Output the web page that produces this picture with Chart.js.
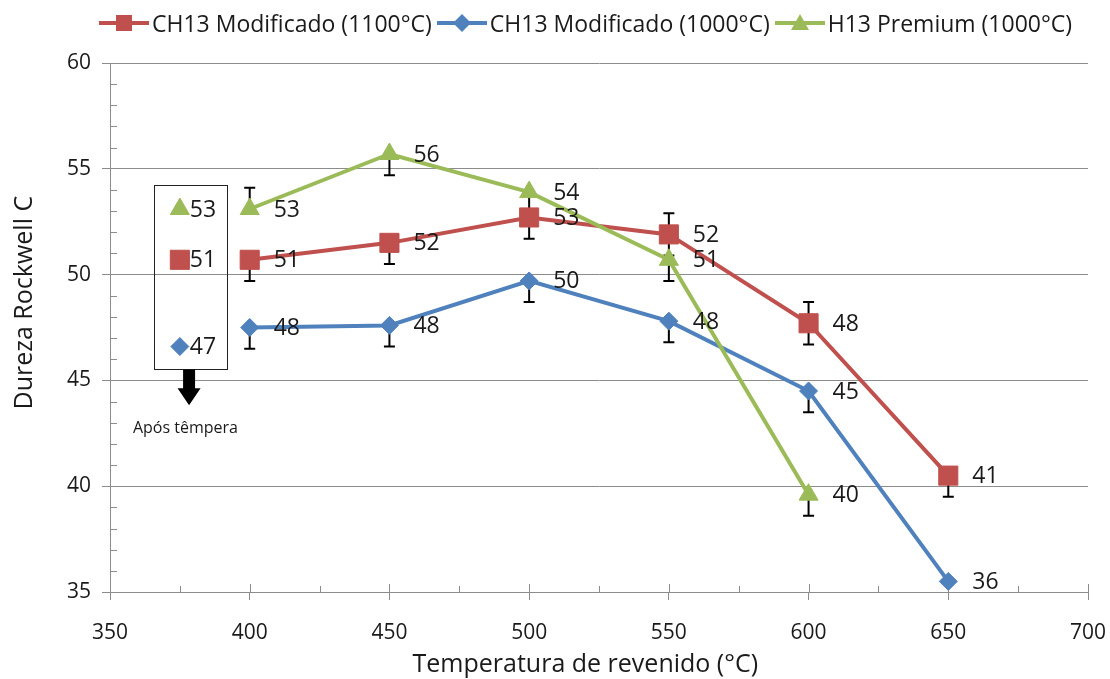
<!DOCTYPE html>
<html>
<head>
<meta charset="utf-8">
<script src="https://cdn.jsdelivr.net/npm/chart.js@4.4.1/dist/chart.umd.min.js"></script>
<style>
  html, body { margin: 0; padding: 0; background: #fff; }
  #wrap { position: relative; width: 1110px; height: 679px; }
  #legend {
    position: absolute; top: 7px; left: 99px;
    display: flex; align-items: center;
    font-family: "Open Sans", sans-serif; font-size: 23px; color: #1a1a1a;
    white-space: nowrap;
  }
  #legend .item { display: flex; align-items: center; margin-right: 5px; }
  #legend .item span { margin-left: 3px; }
</style>
</head>
<body>
<div id="wrap">
  <canvas id="hardness" width="1110" height="679"></canvas>
  <div id="legend"></div>
</div>
<script>
// tempering temperatures (°C)
const temps = [400, 450, 500, 550, 600, 650];
const tempsH13 = [400, 450, 500, 550, 600];

// Rockwell C hardness after tempering
const ch13_1100 = [50.7, 51.5, 52.7, 51.9, 47.7, 40.5];
const ch13_1000 = [47.5, 47.6, 49.7, 47.8, 44.5, 35.5];
const h13_1000 = [53.1, 55.7, 53.9, 50.7, 39.6];

// error bars (up / down)
const up_1100 = [0, 0, 0, 1, 1, 0];
const down_1100 = [1, 1, 1, 1, 1, 1];
const up_1000 = [0, 0, 0, 0, 0, 0];
const down_1000 = [1, 1, 1, 1, 1, 0];
const up_h13 = [1, 0, 0, 0, 0];
const down_h13 = [0, 1, 1, 1, 1];

// hardness right after quenching, shown at the side
const quenchX = 375;
const quench_1100 = 50.7;
const quench_1000 = 46.6;
const quench_h13 = 53.1;

const seriesNames = ['CH13 Modificado (1100°C)', 'CH13 Modificado (1000°C)', 'H13 Premium (1000°C)'];
const xTicks = [350, 400, 450, 500, 550, 600, 650, 700];
const yTicks = [35, 40, 45, 50, 55, 60];
const xTitle = 'Temperatura de revenido (°C)';
const yTitle = 'Dureza Rockwell C';

const RED = '#C0504D', BLUE = '#4F81BD', GREEN = '#9BBB59';
const GRID = '#8c8c8c';
const TEXT = '#1a1a1a';
const FONT = '"Open Sans", sans-serif';

const pts = (xs, ys) => xs.map((x, i) => ({x: x, y: ys[i]}));

function series(label, xs, ys, color, style, radius, up, down, order) {
  return {
    label: label,
    data: pts(xs, ys),
    borderColor: color,
    backgroundColor: color,
    borderWidth: 4,
    pointStyle: style,
    pointRadius: radius,
    pointBorderWidth: 1,
    pointBackgroundColor: color,
    pointBorderColor: color,
    tension: 0,
    order: order,
    errUp: up,
    errDown: down,
    labelGap: 24
  };
}

function quench(label, y, color, style, radius) {
  return {
    label: label,
    data: [{x: quenchX, y: y}],
    showLine: false,
    pointStyle: style,
    pointRadius: radius,
    pointBorderWidth: 1,
    pointBackgroundColor: color,
    pointBorderColor: color,
    borderColor: color,
    backgroundColor: color,
    labelGap: 10
  };
}

const datasets = [
  series(seriesNames[0], temps, ch13_1100, RED, 'rect', 13.5, up_1100, down_1100, 2),
  series(seriesNames[1], temps, ch13_1000, BLUE, 'rectRot', 9, up_1000, down_1000, 1),
  series(seriesNames[2], tempsH13, h13_1000, GREEN, 'triangle', 11, up_h13, down_h13, 0),
  quench('q1100', quench_1100, RED, 'rect', 13.5),
  quench('q1000', quench_1000, BLUE, 'rectRot', 9),
  quench('qh13', quench_h13, GREEN, 'triangle', 11)
];

// error bars sit behind lines and markers
const errorBars = {
  id: 'errorBars',
  beforeDatasetsDraw(chart) {
    const {ctx, scales: {x, y}} = chart;
    ctx.save();
    ctx.strokeStyle = '#000';
    ctx.lineWidth = 2;
    chart.data.datasets.forEach(ds => {
      if (!ds.errUp) return;
      ds.data.forEach((p, i) => {
        const px = x.getPixelForValue(p.x);
        [[ds.errUp[i], 1], [ds.errDown[i], -1]].forEach(([e, dir]) => {
          if (!e) return;
          const py0 = y.getPixelForValue(p.y);
          const py1 = y.getPixelForValue(p.y + dir * e);
          ctx.beginPath();
          ctx.moveTo(px, py0);
          ctx.lineTo(px, py1);
          ctx.moveTo(px - 5.5, py1);
          ctx.lineTo(px + 5.5, py1);
          ctx.stroke();
        });
      });
    });
    ctx.restore();
  }
};

// minor ticks and inner part of the x major ticks
const minorTicks = {
  id: 'minorTicks',
  beforeDatasetsDraw(chart) {
    const {ctx, chartArea, scales: {x, y}} = chart;
    ctx.save();
    ctx.strokeStyle = GRID;
    ctx.lineWidth = 1;
    ctx.beginPath();
    for (let v = y.min + 1; v < y.max; v++) {
      if (v % 5 === 0) continue;
      const py = Math.round(y.getPixelForValue(v)) + 0.5;
      ctx.moveTo(chartArea.left, py);
      ctx.lineTo(chartArea.left + 7, py);
    }
    for (let v = x.min; v <= x.max; v += 25) {
      const px = Math.round(x.getPixelForValue(v)) + 0.5;
      ctx.moveTo(px, chartArea.bottom);
      ctx.lineTo(px, chartArea.bottom - (v % 50 === 0 ? 8 : 6));
    }
    ctx.stroke();
    ctx.restore();
  }
};

// value labels to the right of each marker
const valueLabels = {
  id: 'valueLabels',
  afterDatasetsDraw(chart) {
    const {ctx} = chart;
    ctx.save();
    ctx.font = '23px ' + FONT;
    ctx.fillStyle = TEXT;
    ctx.textAlign = 'left';
    ctx.textBaseline = 'middle';
    chart.data.datasets.forEach((ds, di) => {
      chart.getDatasetMeta(di).data.forEach((el, i) => {
        ctx.fillText(String(Math.round(ds.data[i].y)), el.x + ds.labelGap, el.y + 1);
      });
    });
    ctx.restore();
  }
};

// box around the as-quenched values, arrow and caption
const quenchBox = {
  id: 'quenchBox',
  afterDatasetsDraw(chart) {
    const {ctx, scales: {x, y}} = chart;
    const l = Math.round(x.getPixelForValue(365.9)) + 0.5;
    const r = Math.round(x.getPixelForValue(391.8)) + 0.5;
    const t = Math.round(y.getPixelForValue(54.23)) + 0.5;
    const b = Math.round(y.getPixelForValue(45.52)) + 0.5;
    ctx.save();
    ctx.strokeStyle = '#222';
    ctx.lineWidth = 1;
    ctx.strokeRect(l, t, r - l, b - t);

    const ax = x.getPixelForValue(378.3);
    const headTop = y.getPixelForValue(44.63);
    const tip = y.getPixelForValue(43.83);
    ctx.fillStyle = '#000';
    ctx.beginPath();
    ctx.moveTo(ax - 6, b);
    ctx.lineTo(ax + 6, b);
    ctx.lineTo(ax + 6, headTop);
    ctx.lineTo(ax + 11.5, headTop);
    ctx.lineTo(ax, tip);
    ctx.lineTo(ax - 11.5, headTop);
    ctx.lineTo(ax - 6, headTop);
    ctx.closePath();
    ctx.fill();

    ctx.font = '16px ' + FONT;
    ctx.fillStyle = TEXT;
    ctx.textAlign = 'center';
    ctx.textBaseline = 'middle';
    ctx.fillText('Após têmpera', x.getPixelForValue(377), y.getPixelForValue(42.72));
    ctx.restore();
  }
};

// axis titles, placed like the spreadsheet layout
const axisTitles = {
  id: 'axisTitles',
  afterDraw(chart) {
    const {ctx, chartArea} = chart;
    ctx.save();
    ctx.font = '25px ' + FONT;
    ctx.fillStyle = TEXT;
    ctx.textAlign = 'center';
    ctx.textBaseline = 'middle';
    ctx.fillText(xTitle, chartArea.left + chartArea.width * 0.486, chartArea.bottom + 73);
    ctx.translate(25, chartArea.top + chartArea.height * 0.453);
    ctx.rotate(-Math.PI / 2);
    ctx.fillText(yTitle, 0, 0);
    ctx.restore();
  }
};

const ctx = document.getElementById('hardness').getContext('2d');
const chart = new Chart(ctx, {
  type: 'line',
  data: {datasets: datasets},
  options: {
    responsive: false,
    animation: false,
    layout: {padding: {top: 63, right: 22, left: 0, bottom: 0}},
    plugins: {
      legend: {display: false},
      tooltip: {enabled: false}
    },
    scales: {
      x: {
        type: 'linear',
        min: 350,
        max: 700,
        afterBuildTicks: s => { s.ticks = xTicks.map(v => ({value: v})); },
        afterFit: s => { s.height = 87; s.paddingLeft = 0; s.paddingRight = 0; },
        ticks: {font: {family: FONT, size: 21}, color: TEXT, padding: 20},
        grid: {drawOnChartArea: false, color: GRID, tickLength: 8},
        border: {color: GRID}
      },
      y: {
        min: 35,
        max: 60,
        afterBuildTicks: s => { s.ticks = yTicks.map(v => ({value: v})); },
        afterFit: s => { s.width = 110; s.paddingTop = 0; s.paddingBottom = 0; },
        ticks: {font: {family: FONT, size: 21}, color: TEXT, padding: 11},
        grid: {color: GRID, tickLength: 8},
        border: {color: GRID}
      }
    }
  },
  plugins: [minorTicks, errorBars, valueLabels, quenchBox, axisTitles]
});

// legend built from the three tempering series
const legend = document.getElementById('legend');
const shapes = {
  rect: c => `<rect x="17" y="3" width="16" height="16" fill="${c}"/>`,
  rectRot: c => `<polygon points="25,2 34,11 25,20 16,11" fill="${c}"/>`,
  triangle: c => `<polygon points="25,2 34,18 16,18" fill="${c}"/>`
};
datasets.slice(0, 3).forEach(ds => {
  const item = document.createElement('div');
  item.className = 'item';
  item.innerHTML =
    `<svg width="50" height="22"><line x1="0" y1="11" x2="50" y2="11" stroke="${ds.borderColor}" stroke-width="4"/>` +
    shapes[ds.pointStyle](ds.borderColor) + `</svg><span>${ds.label}</span>`;
  legend.appendChild(item);
});
</script>
</body>
</html>
